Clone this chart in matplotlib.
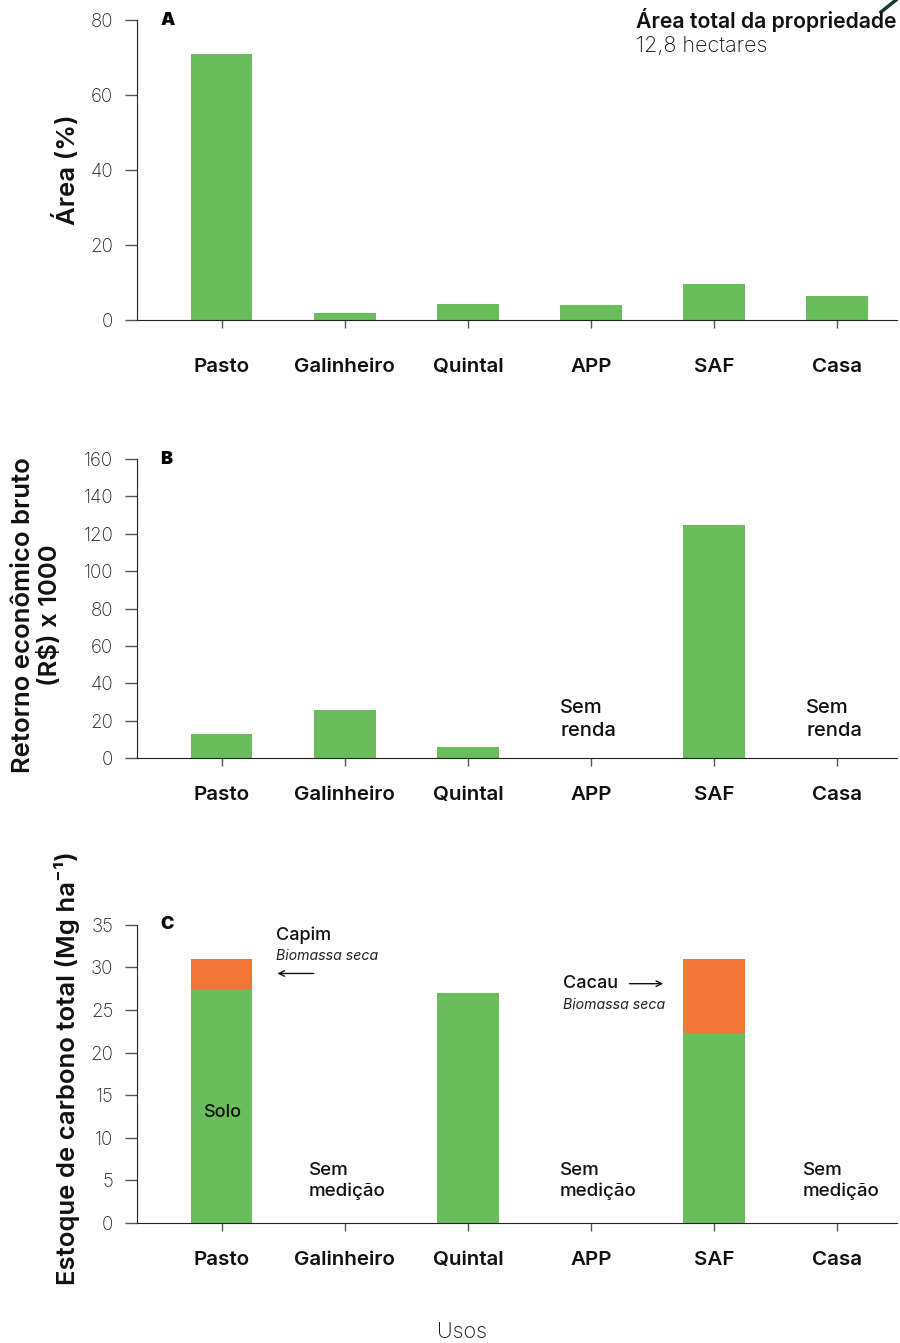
import matplotlib
matplotlib.use("Agg")
import matplotlib.pyplot as plt
from matplotlib.lines import Line2D

plt.rcParams['font.family'] = ['Inter', 'DejaVu Sans']

usos = ["Pasto", "Galinheiro", "Quintal", "APP", "SAF", "Casa"]
area_pct = [70.9, 1.9, 4.3, 4.0, 9.6, 6.4]
retorno_mil = [12.8, 25.7, 5.9, 0.0, 124.7, 0.0]
carbono_solo = [27.5, 0.0, 27.0, 0.0, 22.3, 0.0]
carbono_biomassa = [3.5, 0.0, 0.0, 0.0, 8.7, 0.0]

GREEN = "#69BE5B"
ORANGE = "#F27536"
TXT = "#111111"
W, H = 900, 1343

fig = plt.figure(figsize=(9, 13.43), dpi=100)
xs = list(range(len(usos)))

left, width = 0.152, 0.845
ax_a = fig.add_axes([left, 0.7617, width, 0.2234])
ax_b = fig.add_axes([left, 0.4356, width, 0.2226])
ax_c = fig.add_axes([left, 0.0894, width, 0.2219])


def style(ax, ylim, yticks, label_pad):
    ax.set_xlim(-0.69, 5.49)
    ax.set_ylim(*ylim)
    ax.set_yticks(yticks)
    ax.set_xticks(xs)
    ax.set_xticklabels(usos, fontsize=14.8, fontweight="semibold", color=TXT)
    for s in ("top", "right"):
        ax.spines[s].set_visible(False)
    ax.spines["left"].set_color("#222222")
    ax.spines["bottom"].set_color("#222222")
    ax.tick_params(axis="y", length=9, width=1, color="#555555",
                   labelsize=13.5, labelcolor="#222222", pad=8)
    ax.tick_params(axis="x", length=6, width=1, color="#555555", pad=label_pad)
    for t in ax.get_yticklabels():
        t.set_fontweight("light")


def ylab(x_px, y_px, text, **kw):
    fig.text(x_px / W, 1 - y_px / H, text, rotation=90, ha="center",
             va="center", fontsize=18.5, fontweight="semibold", color=TXT, **kw)


# Panel A: share of total area
ax_a.bar(xs, area_pct, width=0.5, color=GREEN)
style(ax_a, (0, 80), [0, 20, 40, 60, 80], 21)
ylab(66, 170, "Área (%)")
ax_a.text(-0.5, 80, "A", fontsize=13, fontweight="black", va="center")
fig.text(636 / W, 1 - 20 / H, "Área total da propriedade", fontsize=15.3,
         fontweight="semibold", va="center", ha="left", color=TXT)
fig.text(636 / W, 1 - 46 / H, "12,8 hectares", fontsize=15.5,
         fontweight="light", va="center", ha="left", color=TXT)
fig.add_artist(Line2D([881 / W, 896 / W], [1 - 12 / H, 1 - 0 / H],
                      transform=fig.transFigure, color="#173d2c", lw=2.5))

# Panel B: gross economic return
ax_b.bar(xs, retorno_mil, width=0.5, color=GREEN)
style(ax_b, (0, 160), list(range(0, 161, 20)), 14)
ylab(37, 615, "Retorno econômico bruto\n(R$) x 1000", linespacing=1.15)
ax_b.text(-0.5, 160, "B", fontsize=13, fontweight="black", va="center")
for i, v in enumerate(retorno_mil):
    if v == 0:
        ax_b.text(i - 0.25, 20.6, "Sem\nrenda", fontsize=14.5, fontweight="medium",
                  ha="left", va="center", color=TXT, linespacing=1.3)

# Panel C: total carbon stock
ax_c.bar(xs, carbono_solo, width=0.5, color=GREEN)
ax_c.bar(xs, carbono_biomassa, width=0.5, bottom=carbono_solo, color=ORANGE)
style(ax_c, (0, 35), list(range(0, 36, 5)), 14)
ylab(67, 1068, "Estoque de carbono total (Mg ha⁻¹)",
     family=['Inter', 'DejaVu Sans'])
ax_c.text(-0.5, 35, "C", fontsize=13, fontweight="black", va="center")
ax_c.text(0, 13.0, "Solo", fontsize=13, fontweight="medium", ha="center",
          va="center", color=TXT)
for i, dx in ((1, -0.29), (3, -0.25), (5, -0.28)):
    ax_c.text(i + dx, 4.9, "Sem\nmedição", fontsize=13.5, fontweight="medium",
              ha="left", va="center", color=TXT, linespacing=1.25)
ax_c.text(0.44, 33.8, "Capim", fontsize=13, fontweight="medium", ha="left",
          va="center", color=TXT)
ax_c.text(0.44, 31.4, "Biomassa seca", fontsize=10.2, fontstyle="italic",
          ha="left", va="center", color="#222222")
ax_c.annotate("", xy=(0.43, 29.3), xytext=(0.77, 29.3),
              arrowprops=dict(arrowstyle="->", color=TXT, lw=1))
ax_c.text(2.77, 28.1, "Cacau", fontsize=13, fontweight="medium", ha="left",
          va="center", color=TXT)
ax_c.text(2.77, 25.6, "Biomassa seca", fontsize=10.2, fontstyle="italic",
          ha="left", va="center", color="#222222")
ax_c.annotate("", xy=(3.61, 28.1), xytext=(3.29, 28.1),
              arrowprops=dict(arrowstyle="->", color=TXT, lw=1))

fig.text(462 / W, 1 - 1332 / H, "Usos", fontsize=15.5, fontweight="light",
         ha="center", va="center", color=TXT)

fig.savefig("out.png", dpi=100)
